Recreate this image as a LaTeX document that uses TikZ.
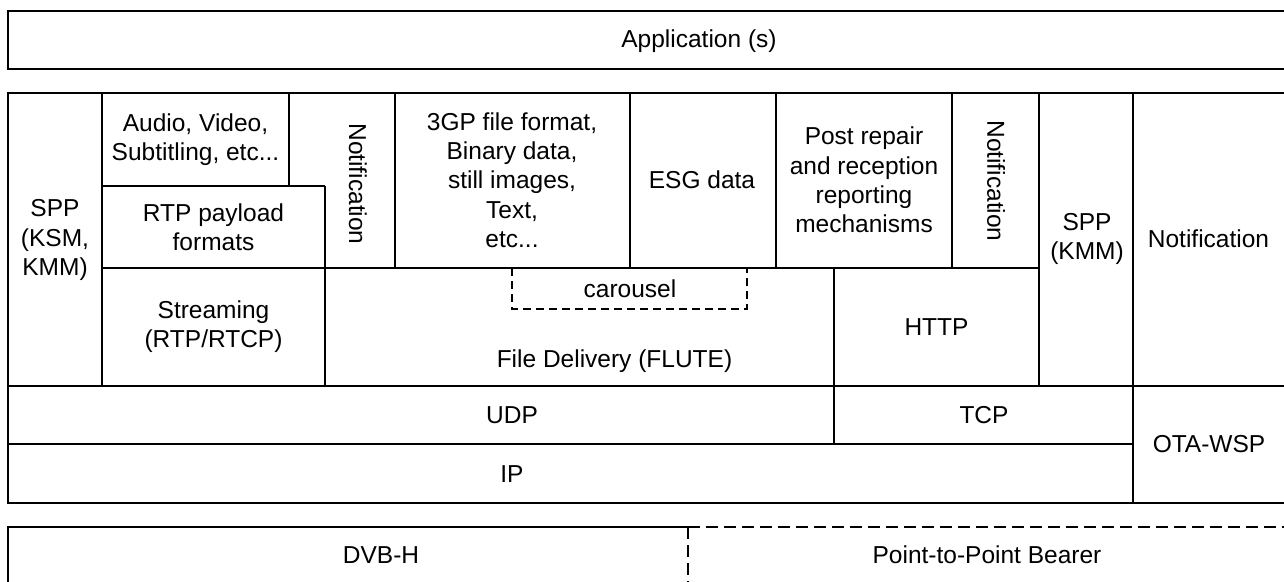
\documentclass[tikz,border=0pt]{standalone}
\usepackage{fontspec}
\setmainfont{Liberation Sans}
\begin{document}
\begin{tikzpicture}[x=1pt,y=-1pt, line width=1.2pt, line join=miter,
  lbl/.style={font=\fontsize{24.5}{29.3}\selectfont, align=center, inner sep=0pt},
  rot/.style={lbl, rotate=-90},
  dshlong/.style={dash pattern=on 12pt off 6pt},
  dshshort/.style={dash pattern=on 8pt off 5pt}]
\useasboundingbox (0,0) rectangle (1284,581);
% frames
\draw (8,11) rectangle (1287,69);
\draw (8,93) rectangle (1287,503);
\draw (8,386) -- (1287,386);
\draw (8,444) -- (1133,444);
\draw (1133,93) -- (1133,503);
\draw (834,268) -- (834,444);
\draw (1039,93) -- (1039,386);
\draw (102,268) -- (1039,268);
\draw (102,93) -- (102,386);
\draw (102,186) -- (325,186);
\draw (289,93) -- (289,186);
\draw (325,186) -- (325,386);
\draw (395,93) -- (395,268);
\draw (630,93) -- (630,268);
\draw (776,93) -- (776,268);
\draw (952,93) -- (952,268);
\draw[dshshort] (512,268) -- (512,309) -- (747,309) -- (747,268);
\draw (8,586) -- (8,527) -- (688,527);
\draw[dshlong] (688,527) -- (1287,527);
\draw[dshlong] (688,527) -- (688,586);
% labels
\node[lbl] (app) at (699,41) {Application (s)};
\node[lbl] (spp1) at (55,240) {SPP\\(KSM,\\KMM)};
\node[lbl] (av) at (195.5,140) {Audio, Video,\\Subtitling, etc...};
\node[lbl] (rtppf) at (213.5,227) {RTP payload\\formats};
\node[rot] (notif1) at (358,184) {Notification};
\node[lbl] (gp) at (512,180) {3GP file format,\\Binary data,\\still images,\\Text,\\etc...};
\node[lbl] (esg) at (702,180) {ESG data};
\node[lbl] (post) at (864,180) {Post repair\\and reception\\reporting\\mechanisms};
\node[rot] (notif2) at (996,181) {Notification};
\node[lbl] (spp2) at (1087,239) {SPP\\(KMM)};
\node[lbl] (notif3) at (1208.5,239) {Notification};
\node[lbl] (carousel) at (630,289) {carousel};
\node[lbl] (stream) at (213.5,327) {Streaming\\(RTP/RTCP)};
\node[lbl] (flute) at (614.5,361) {File Delivery (FLUTE)};
\node[lbl] (http) at (936.5,327) {HTTP};
\node[lbl] (udp) at (512,415) {UDP};
\node[lbl] (tcp) at (984,415) {TCP};
\node[lbl] (ip) at (512,474) {IP};
\node[lbl] (ota) at (1209,444.5) {OTA-WSP};
\node[lbl] (dvbh) at (381,555) {DVB-H};
\node[lbl] (ptp) at (987,555) {Point-to-Point Bearer};
\end{tikzpicture}
\end{document}
